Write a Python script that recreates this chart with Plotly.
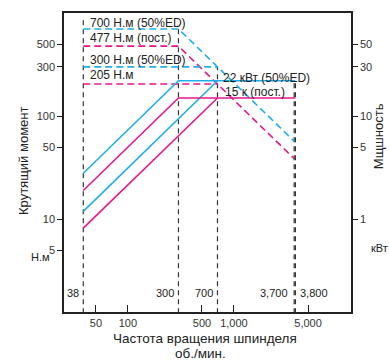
import numpy as np
import plotly.graph_objects as go

# ---- data ----
# torque curves (left axis, N·m) vs spindle speed (rpm)
t700_x = [38, 300, 3700]
t700_y = [700, 700, 57]
t477_x = [38, 300, 3700]
t477_y = [477, 477, 38.7]
t300_x = [38, 700]
t300_y = [300, 300]
t205_x = [38, 700]
t205_y = [205, 205]

# power curves (right axis, kW)
p22a_x = [38, 300, 3800]
p22a_y = [2.79, 22, 22]
p22b_x = [38, 700]
p22b_y = [1.19, 22]
p15a_x = [38, 300, 3800]
p15a_y = [1.9, 15, 15]
p15b_x = [38, 700]
p15b_y = [0.82, 15]

# reference speeds (vertical dashed) and their top torque level
ref_speeds = [38, 300, 700, 3700, 3800]
ref_tops = [850, 700, 300, 220, 220]
ref_labels = ["38", "300", "700", "3,700", "3,800"]

x_tickvals = [50, 100, 500, 1000, 5000]
x_ticktext = ["50", "100", "500", "1,000", "5,000"]
y_tickvals = [5, 10, 50, 100, 300, 500]
y2_tickvals = [1, 5, 10, 30, 50]

BLUE = "#1FAEE8"
PINK = "#E8178A"
DARK = "#333333"
FONT = "Liberation Sans, Arial, sans-serif"

fig = go.Figure()

# vertical reference lines
for xv, top in zip(ref_speeds, ref_tops):
    fig.add_trace(go.Scatter(x=[xv, xv], y=[1.0, top], mode="lines",
                             line=dict(color=DARK, width=1.2, dash="5px,4px"),
                             hoverinfo="skip", showlegend=False))

# torque dashed lines
for xs, ys, c in [(t700_x, t700_y, BLUE), (t477_x, t477_y, PINK),
                  (t300_x, t300_y, BLUE), (t205_x, t205_y, PINK)]:
    fig.add_trace(go.Scatter(x=xs, y=ys, mode="lines",
                             line=dict(color=c, width=1.6, dash="7px,4px"),
                             showlegend=False))

# power solid lines
for xs, ys, c in [(p22a_x, p22a_y, BLUE), (p22b_x, p22b_y, BLUE),
                  (p15a_x, p15a_y, PINK), (p15b_x, p15b_y, PINK)]:
    fig.add_trace(go.Scatter(x=xs, y=ys, mode="lines", yaxis="y2",
                             line=dict(color=c, width=1.6),
                             showlegend=False))

L, R, T, B = 64, 38, 11, 49
W, H = 389, 361
PW, PH = W - L - R, H - T - B


def px(xp):
    return (xp - L) / PW


def py(yp):
    return (H - B - yp) / PH


annotations = []


def txt(text, xp, yp, xa="left", size=12, angle=0):
    annotations.append(dict(text=text, x=px(xp), y=py(yp), xref="paper", yref="paper",
                            xanchor=xa, yanchor="middle", showarrow=False, textangle=angle,
                            font=dict(family=FONT, size=size, color="#222222")))


txt("700 Н.м (50%ED)", 88, 21)
txt("477 Н.м (пост.)", 88, 36)
txt("300 Н.м (50%ED)", 88, 58)
txt("205 Н.м", 88, 73)
txt("22 кВт (50%ED)", 221, 76)
txt("15 к (пост.)", 223, 91)

# speed labels near the reference lines
lab_pos = [(81, "right"), (176, "right"), (215, "right"), (290, "right"), (298, "left")]
for lab, (xp, xa) in zip(ref_labels, lab_pos):
    txt(lab, xp, 293, xa=xa, size=11)

txt("Крутящий момент", 23, 160, xa="center", size=13, angle=-90)
txt("Мщшность", 378, 135, xa="center", size=13, angle=-90)
txt("Н.м", 40, 257, xa="center", size=11)
txt("кВт", 379, 248, xa="center", size=11)
txt("Частота вращения шпинделя", 205, 339, xa="center", size=13.5)
txt("об./мин.", 200, 354, xa="center", size=13.5)

fig.update_layout(
    width=W, height=H,
    margin=dict(l=L, r=R, t=T, b=B),
    paper_bgcolor="white", plot_bgcolor="white",
    font=dict(family=FONT, size=11, color="#333333"),
    showlegend=False,
    annotations=annotations,
    xaxis=dict(type="log", range=[np.log10(25), 4.104],
               tickvals=x_tickvals, ticktext=x_ticktext,
               ticks="inside", ticklen=7, tickwidth=1.2, tickcolor="#222",
               showgrid=False, zeroline=False,
               showline=True, linecolor="#222", linewidth=1.5, mirror=True,
               tickfont=dict(size=11, color="#333")),
    yaxis=dict(type="log", range=[0.1, 3.0],
               tickvals=y_tickvals, ticktext=[str(v) for v in y_tickvals],
               ticks="outside", ticklen=5, tickwidth=1.2, tickcolor="#222",
               showgrid=False, zeroline=False,
               showline=True, linecolor="#222", linewidth=1.5,
               tickfont=dict(size=11, color="#333")),
    yaxis2=dict(type="log", range=[-0.9, 2.0], overlaying="y", side="right",
                tickvals=y2_tickvals, ticktext=[str(v) for v in y2_tickvals],
                ticks="outside", ticklen=5, tickwidth=1.2, tickcolor="#222",
                showgrid=False, zeroline=False,
                showline=True, linecolor="#222", linewidth=1.5,
                tickfont=dict(size=11, color="#333")),
)

fig.write_html("out.html",
               config={"displayModeBar": False},
               post_script="document.body.style.margin='0';document.body.style.overflow='hidden';")
